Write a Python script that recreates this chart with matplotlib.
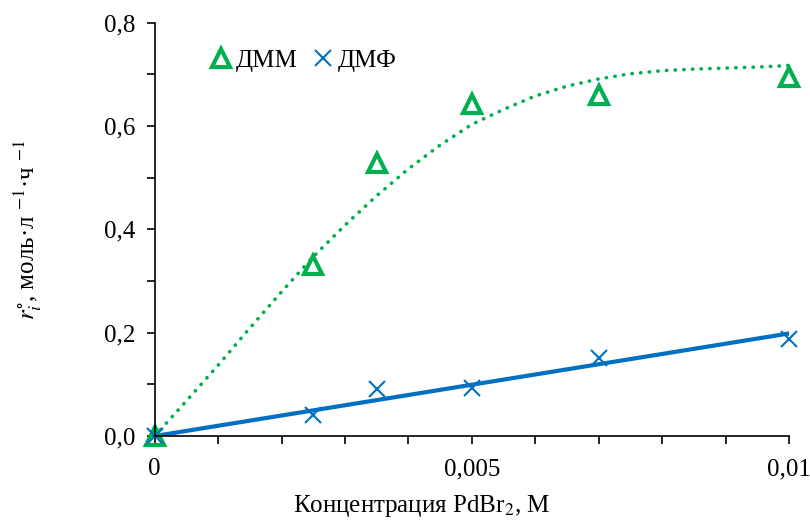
import numpy as np
import matplotlib.pyplot as plt
from matplotlib.ticker import MultipleLocator, FuncFormatter

plt.rcParams['font.family'] = ['Liberation Serif', 'Tinos', 'Times New Roman', 'STIXGeneral', 'DejaVu Serif']
plt.rcParams['mathtext.fontset'] = 'stix'

conc = [0, 0.0025, 0.0035, 0.005, 0.007, 0.01]
dmm = [0, 0.331, 0.529, 0.643, 0.659, 0.694]
dmf = [0, 0.040, 0.091, 0.093, 0.151, 0.188]

# model curve for ДММ
model_x = [0, 0.0005, 0.001, 0.0015, 0.002, 0.0025, 0.003, 0.0035, 0.004, 0.0045, 0.005,
           0.0055, 0.006, 0.0065, 0.007, 0.0075, 0.008, 0.0085, 0.009, 0.0095, 0.01]
model_y = [0, 0.068, 0.137, 0.209, 0.279, 0.347, 0.408, 0.465, 0.517, 0.563, 0.603,
           0.632, 0.658, 0.677, 0.691, 0.701, 0.707, 0.710, 0.712, 0.714, 0.717]

green = '#00b050'
blue = '#0070c0'

fig = plt.figure(figsize=(8.1, 5.2), dpi=100)
ax = fig.add_axes([0.191, 0.1615, 0.783, 0.795])

ax.plot(model_x, model_y, ls=(0, (0.1, 2.3)), color=green, lw=2.6, dash_capstyle='round')

# linear trend through origin for ДМФ
x = np.array(conc)
k = np.sum(x * np.array(dmf)) / np.sum(x * x)
ax.plot([0, 0.01], [0, k * 0.01], color=blue, lw=3)

ax.plot(conc, dmm, ls='none', marker='^', ms=13, mfc='none', mec=green, mew=3, label='ДММ', clip_on=False)
ax.plot(conc, dmf, ls='none', marker='x', ms=11, color=blue, mew=1.5, label='ДМФ', clip_on=False)

ax.set_xlim(0, 0.01)
ax.set_ylim(0, 0.8)
ax.xaxis.set_major_locator(MultipleLocator(0.005))
ax.xaxis.set_minor_locator(MultipleLocator(0.001))
ax.yaxis.set_major_locator(MultipleLocator(0.2))
ax.yaxis.set_minor_locator(MultipleLocator(0.1))

def fx(v, pos):
    if abs(v) < 1e-12:
        return '0'
    return ('%g' % v).replace('.', ',')

ax.xaxis.set_major_formatter(FuncFormatter(fx))
ax.yaxis.set_major_formatter(FuncFormatter(lambda v, pos: ('%.1f' % v).replace('.', ',')))

ax.tick_params(axis='both', which='both', direction='out', width=1.2, length=6, labelsize=18)
ax.tick_params(axis='y', pad=8)
ax.tick_params(axis='x', pad=10)

for s in ['top', 'right']:
    ax.spines[s].set_visible(False)
for s in ['left', 'bottom']:
    ax.spines[s].set_linewidth(1.2)

ax.set_xlabel('Концентрация PdBr$_2$, М', fontsize=18)
ax.xaxis.set_label_coords(0.42, -0.138)
ax.set_ylabel(r'$r_i^{\circ}$, моль·л $^{-1}$·ч $^{-1}$', fontsize=18, labelpad=44)

ax.legend(loc='upper left', bbox_to_anchor=(0.045, 0.99), ncol=2, frameon=False,
          fontsize=18, handletextpad=0.0, columnspacing=0.4, handlelength=1.2)

fig.savefig('out.png', dpi=100)
